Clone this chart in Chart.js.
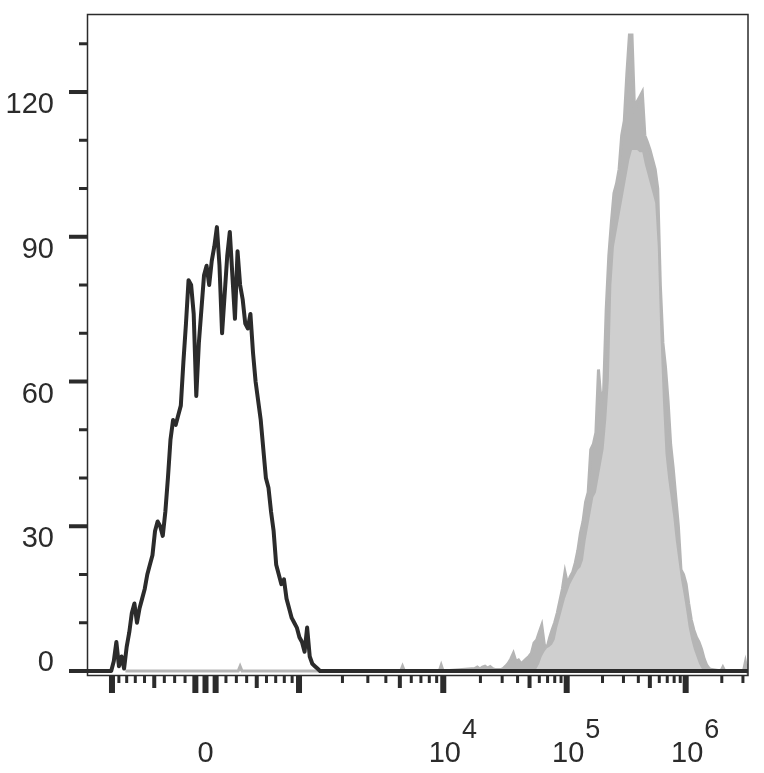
<!DOCTYPE html>
<html>
<head>
<meta charset="utf-8">
<script src="https://cdn.jsdelivr.net/npm/chart.js@4/dist/chart.umd.min.js"></script>
<style>
  html, body { margin: 0; padding: 0; background: #fff; }
  #wrap { width: 764px; height: 773px; }
</style>
</head>
<body>
<div id="wrap"><canvas id="histo" width="764" height="773"></canvas></div>
<script>
// histogram counts, x in display channels (0..1024), 4 channels per bin
const BIN = 4;

// unstained control (black outline)
const BLACK_START = 32;
const BLACK_COUNTS = [
  0, 0, 2, 6, 1, 3, 0.5, 5, 8, 12,
  14, 10, 13, 15, 17, 20, 22, 24, 29, 31,
  30, 28, 33, 40, 48, 52, 51, 53, 55, 64,
  72, 81, 80, 74, 57, 68, 75, 82, 84, 80,
  85, 88, 92, 84, 70, 78, 86, 91, 82, 73,
  87, 80, 77, 72, 71, 74, 66, 60, 56, 52,
  46, 40, 38, 33, 29, 22, 20, 18, 19, 15,
  13, 11, 10, 9, 7, 6, 4, 9, 3, 1.5,
  1, 0.5, 0
];

// stained sample, jagged outer profile (dark grey)
const GREY_START = 600;
const GREY_OUTER = [
  0.5, 0.8, 0.4, 0.8, 1, 0.6, 0.9, 0.5, 0.3, 0.3,
  0.3, 0.5, 1, 1.6, 2.5, 3.7, 2, 2.3, 1.5, 2,
  2.5, 3, 3.7, 5.8, 6.4, 8, 9.5, 5.5, 4.7, 6.8,
  8.5, 10, 12, 14.5, 17, 20.5, 18, 19.5, 20.5, 22.4,
  25, 28.6, 31, 35, 37, 45.9, 47, 49.4, 62.5, 56,
  58, 75, 86, 93, 99, 101, 104, 111, 114, 123.7,
  131.8, 131.8, 116, 118, 119, 120, 111, 109.6, 108, 106,
  104, 100, 80, 68, 63, 56, 47, 42, 36, 30,
  21, 20, 18, 14, 10.6, 8.5, 7, 6, 4.5, 2.5,
  1.2, 0.5, 0.3
];

// stained sample, inner body (light grey)
const GREY_INNER_START = 640;
const GREY_INNER = [
  0, 0, 0, 0, 0, 0, 0, 0, 0, 0,
  0, 0, 0, 0, 0.5, 1.5, 3, 4, 4.7, 5,
  5.5, 6.5, 9, 11, 13, 15, 16.5, 18, 19, 20,
  21, 21.5, 23, 27, 30, 33, 36, 37, 40, 43,
  46, 52, 60, 80, 88, 91, 94, 97, 100, 103,
  106, 108, 108, 108, 107.5, 107.5, 105, 103, 101, 99,
  97, 88, 70, 56, 45, 40, 36, 32, 27, 23,
  19, 16, 12.7, 9, 6.5, 4.5, 3, 1.5, 0.5, 0,
  0, 0, 0
];

// stray stained events along the baseline
const GREY_BASE_START = 58;
const GREY_EVENTS_CH = [236, 488, 548, 985, 1020];
const GREY_EVENTS_Y = [1, 1, 1.2, 0.8, 1.9];

// axes
const Y_MAJOR = [0, 30, 60, 90, 120];
const Y_MINOR = [10, 20, 40, 50, 70, 80, 100, 110, 130];
const X_MAJOR = [-1000, -100, 0, 100, 1000, 1e4, 1e5, 1e6];
const X_MID = [-500, 500, 5000, 5e4, 5e5];
const X_MINOR_LIN = [-900, -800, -700, -600, -400, -300, -200, 200, 300, 400, 600, 700, 800, 900];
const X_MINOR_MULT = [2, 3, 4, 6, 7, 8, 9];
const X_MINOR_DECADES = [1e3, 1e4, 1e5];
const X_MINOR_TAIL = [2e6, 3e6];
const X_LABELS = [[0, '0', ''], [1e4, '10', '4'], [1e5, '10', '5'], [1e6, '10', '6']];

const INK = '#2b2b2b';
const FONT = '"Liberation Sans", Arial, Helvetica, sans-serif';

// biexponential-like display transform: value -> channel
const ZERO_CH = 182.3;
const DECADE_CH = [[3, 145.1], [4, 368.9], [5, 560.4], [6, 745.0], [7, 931.2]];
function biex(v) {
  const a = Math.abs(v);
  let d;
  if (a <= 1000) {
    const t = a / 1000;
    d = DECADE_CH[0][1] * (1.068 * t + 0.18 * t * t - 0.248 * t * t * t);
  } else {
    const L = Math.log10(a);
    let k = 0;
    while (k < DECADE_CH.length - 2 && L > DECADE_CH[k + 1][0]) k++;
    const [l0, c0] = DECADE_CH[k];
    const [l1, c1] = DECADE_CH[k + 1];
    d = c0 + (L - l0) / (l1 - l0) * (c1 - c0);
  }
  return ZERO_CH + Math.sign(v) * d;
}

const binPts = (start, counts) => counts.map((c, i) => ({ x: start + i * BIN, y: c }));

const blackPts = [{ x: 0, y: 0 }, ...binPts(BLACK_START, BLACK_COUNTS), { x: 1024, y: 0 }];

const outerPts = [{ x: GREY_BASE_START, y: 0 }];
GREY_EVENTS_CH.forEach((c, i) => {
  if (c < GREY_START) outerPts.push({ x: c - 3, y: 0 }, { x: c, y: GREY_EVENTS_Y[i] }, { x: c + 3, y: 0 });
});
outerPts.push(...binPts(GREY_START, GREY_OUTER));
GREY_EVENTS_CH.forEach((c, i) => {
  if (c > GREY_START + GREY_OUTER.length * BIN) outerPts.push({ x: c - 3, y: 0 }, { x: c, y: GREY_EVENTS_Y[i] }, { x: c + 3, y: 0 });
});
outerPts.push({ x: 1024, y: 1.5 });

const innerPts = binPts(GREY_INNER_START, GREY_INNER);

const axesPlugin = {
  id: 'flowAxes',
  afterDraw(chart) {
    const { ctx, chartArea: a, scales: { x, y } } = chart;
    ctx.save();
    ctx.fillStyle = INK;
    ctx.strokeStyle = INK;

    // frame
    ctx.lineWidth = 1.5;
    ctx.strokeRect(a.left - 0.5, a.top + 0.5, a.right - a.left + 0.5, a.bottom - a.top);

    // y ticks + labels
    Y_MINOR.forEach(v => {
      const py = y.getPixelForValue(v);
      ctx.fillRect(a.left - 9, py - 1.5, 8, 3);
    });
    ctx.font = '29px ' + FONT;
    ctx.textAlign = 'right';
    ctx.textBaseline = 'alphabetic';
    Y_MAJOR.forEach(v => {
      const py = y.getPixelForValue(v);
      ctx.fillRect(a.left - 19, py - 2, 18, 4);
      ctx.fillText(String(v), 54, v === 0 ? py + 0.5 : py + 21);
    });

    // x ticks
    const xt = (v, w, len) => {
      const px = x.getPixelForValue(biex(v));
      ctx.fillRect(px - w / 2, a.bottom, w, len);
    };
    X_MINOR_LIN.forEach(v => xt(v, 3, 8));
    X_MINOR_DECADES.forEach(d => X_MINOR_MULT.forEach(m => xt(d * m, 3, 8)));
    X_MINOR_TAIL.forEach(v => xt(v, 3, 8));
    X_MID.forEach(v => xt(v, 4, 13));
    X_MAJOR.forEach(v => xt(v, 6, 18));

    // x labels
    X_LABELS.forEach(([v, base, sup]) => {
      const px = x.getPixelForValue(biex(v)) + (sup ? 1.5 : 0);
      ctx.font = '29px ' + FONT;
      ctx.textAlign = 'center';
      ctx.fillText(base, px, 762);
      if (sup) {
        const w = ctx.measureText(base).width;
        ctx.font = '27px ' + FONT;
        ctx.textAlign = 'left';
        ctx.fillText(sup, px + w / 2 + 1, 738);
      }
    });
    ctx.restore();
  }
};

new Chart(document.getElementById('histo'), {
  type: 'line',
  data: {
    datasets: [
      { label: 'Unstained', data: blackPts, borderColor: INK, borderWidth: 4, fill: false,
        pointRadius: 0, tension: 0, borderJoinStyle: 'round' },
      { label: 'Stained (body)', data: innerPts, borderColor: 'rgba(0,0,0,0)', borderWidth: 0,
        backgroundColor: '#cfcfcf', fill: 'origin', pointRadius: 0, tension: 0 },
      { label: 'Stained', data: outerPts, borderColor: '#b5b5b5', borderWidth: 3,
        backgroundColor: '#b5b5b5', fill: 'origin', pointRadius: 0, tension: 0 }
    ]
  },
  options: {
    responsive: false,
    animation: false,
    layout: { padding: { left: 88, top: 14, right: 16, bottom: 98 } },
    scales: {
      x: { type: 'linear', min: 0, max: 1024, display: false },
      y: { type: 'linear', min: -0.83, max: 136.17, display: false }
    },
    plugins: { legend: { display: false }, tooltip: { enabled: false } }
  },
  plugins: [axesPlugin]
});
</script>
</body>
</html>
